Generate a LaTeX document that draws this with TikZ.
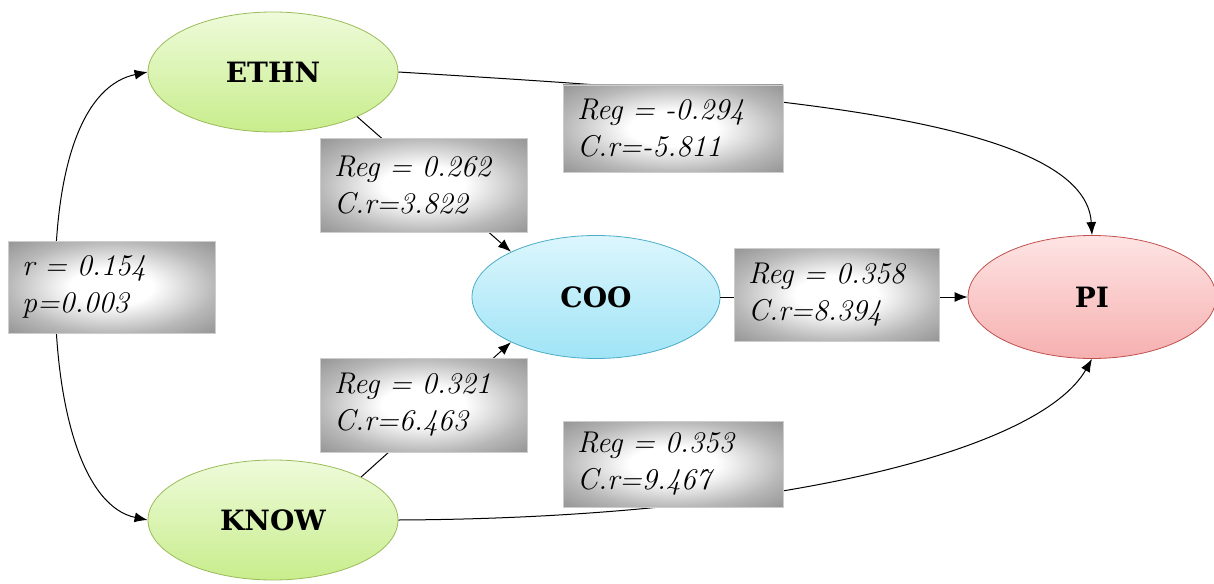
\documentclass[tikz,border=0pt]{standalone}
\usepackage{fontspec}
\usetikzlibrary{shapes.geometric,arrows.meta}
\newfontfamily\lblfont{DejaVu Serif}
\definecolor{gtop}{RGB}{238,251,218}
\definecolor{gbot}{RGB}{200,237,140}
\definecolor{gline}{RGB}{155,187,89}
\definecolor{btop}{RGB}{220,246,253}
\definecolor{bbot}{RGB}{160,228,246}
\definecolor{bline}{RGB}{75,172,198}
\definecolor{ptop}{RGB}{254,228,228}
\definecolor{pbot}{RGB}{246,176,176}
\definecolor{pline}{RGB}{192,80,77}
\definecolor{boxline}{RGB}{205,205,205}
\pgfdeclareradialshading{boxshade}{\pgfpoint{0bp}{0bp}}{color(0bp)=(white); color(10bp)=(white); color(25bp)=(black!28); color(38bp)=(black!45); color(50bp)=(black!45)}
\begin{document}
\begin{tikzpicture}[x=1pt,y=-1pt,
  ell/.style={ellipse, minimum width=250pt, minimum height=120pt, inner sep=0pt, draw, line width=0.8pt,
    font=\lblfont\bfseries\fontsize{28}{30}\selectfont},
  greenell/.style={ell, draw=gline, top color=gtop, bottom color=gbot},
  blueell/.style={ell, draw=bline, top color=btop, bottom color=bbot},
  pinkell/.style={ell, draw=pline, top color=ptop, bottom color=pbot},
  lbl/.style={rectangle, draw=boxline, line width=0.6pt, shading=boxshade, align=left,
    inner xsep=14pt, inner ysep=0pt, font=\itshape\fontsize{30}{37}\selectfont},
  conn/.style={line width=1pt, -{Latex[length=13pt,width=10pt]}}
]
\useasboundingbox (0,0) rectangle (1214,583);

% ellipses
\node[greenell] (ETHN) at (273,72) {ETHN};
\node[greenell] (KNOW) at (273,520) {KNOW};
\node[blueell, minimum width=248pt, minimum height=123pt] (COO) at (596,297) {COO};
\node[pinkell, minimum width=248pt, minimum height=123pt] (PI) at (1092,297) {PI};

% connectors
\draw[line width=1pt, {Latex[length=13pt,width=10pt]}-{Latex[length=13pt,width=10pt]}]
  (ETHN.west) .. controls (85,85) and (55,160) .. (55,287)
  .. controls (55,414) and (85,507) .. (KNOW.west);
\draw[conn] (ETHN.-28) -- (COO.152);
\draw[conn] (KNOW.26) -- (COO.208);
\draw[conn] (COO.east) -- (PI.west);
\draw[conn] (ETHN.east) .. controls (720,92) and (1085,112) .. (PI.north);
\draw[conn] (KNOW.east) .. controls (780,518) and (1040,450) .. (PI.south);

% labels
\node[lbl, minimum width=207pt, minimum height=92pt, text width=179pt] (Lr) at (111.5,287)
  {r = 0.154\\p=0.003};
\node[lbl, minimum width=207pt, minimum height=94pt, text width=179pt] (L262) at (423.5,185)
  {Reg = 0.262\\C.r=3.822};
\node[lbl, minimum width=220pt, minimum height=87pt, text width=192pt] (L294) at (673,128.5)
  {Reg = -0.294\\C.r=-5.811};
\node[lbl, minimum width=205pt, minimum height=93pt, text width=177pt] (L358) at (836.5,294.5)
  {Reg = 0.358\\C.r=8.394};
\node[lbl, minimum width=207pt, minimum height=94pt, text width=179pt] (L321) at (423.5,405)
  {Reg = 0.321\\C.r=6.463};
\node[lbl, minimum width=220pt, minimum height=86pt, text width=192pt] (L353) at (673,464)
  {Reg = 0.353\\C.r=9.467};
\end{tikzpicture}
\end{document}
